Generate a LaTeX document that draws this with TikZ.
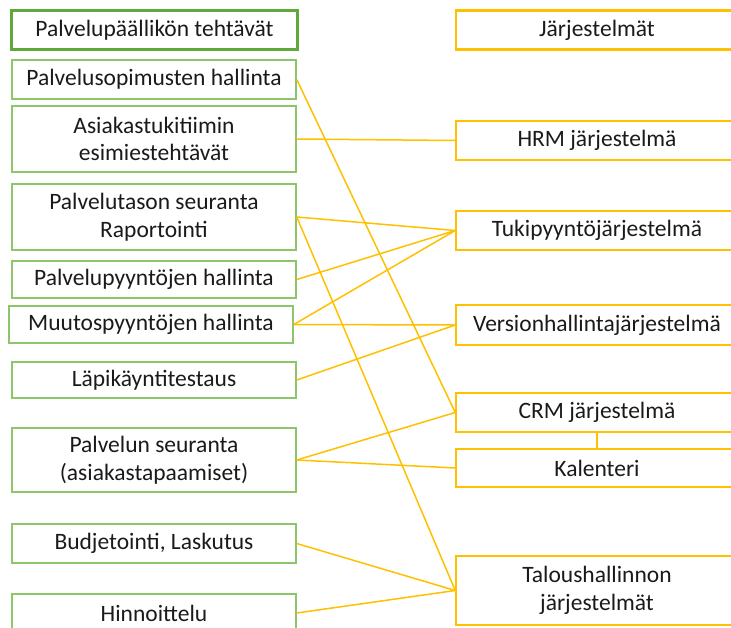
\documentclass[tikz,border=0pt]{standalone}
\usepackage{fontspec}
\setmainfont{Carlito}
\definecolor{gborder}{HTML}{8CC56A}
\definecolor{gdark}{HTML}{5FA83A}
\definecolor{ylw}{HTML}{FFC000}
\definecolor{txt}{HTML}{1A1A1A}
\begin{document}
\begin{tikzpicture}[x=1pt,y=-1pt,
  every node/.style={font=\fontsize{23.5}{27.5}\selectfont, text=txt, align=center, inner sep=0pt},
  gbox/.style={draw=gborder, line width=1.5pt, minimum width=284},
  ghead/.style={draw=gdark, line width=2.8pt, minimum width=286, minimum height=39},
  rbox/.style={draw=ylw, line width=1.5pt, minimum width=282},
  rhead/.style={draw=ylw, line width=2.8pt, minimum width=282, minimum height=39},
  link/.style={draw=ylw, line width=1.5pt}]
\useasboundingbox (0,0) rectangle (731,627);
\clip (0,0) rectangle (731,627);
% left column
\node[ghead] (lh) at (154.5,30) {Palvelupäällikön tehtävät};
\node[gbox, minimum height=39] (b1) at (154,79.5) {Palvelusopimusten hallinta};
\node[gbox, minimum height=66] (b2) at (154,139) {Asiakastukitiimin\\esimiestehtävät};
\node[gbox, minimum height=66] (b3) at (154,217) {Palvelutason seuranta\\Raportointi};
\node[gbox, minimum height=37] (b4) at (154,279.5) {Palvelupyyntöjen hallinta};
\node[gbox, minimum height=37] (b5) at (151,324.5) {Muutospyyntöjen hallinta};
\node[gbox, minimum height=36] (b6) at (154,380) {Läpikäyntitestaus};
\node[gbox, minimum height=64] (b7) at (154,460) {Palvelun seuranta\\(asiakastapaamiset)};
\node[gbox, minimum height=39] (b8) at (154,543.5) {Budjetointi, Laskutus};
\node[gbox, minimum height=38] (b9) at (154,613) {Hinnoittelu};
% right column
\node[rhead] (rh) at (597,30) {Järjestelmät};
\node[rbox, minimum height=39] (hrm) at (597,140.5) {HRM järjestelmä};
\node[rbox, minimum height=39] (tuki) at (597,230.5) {Tukipyyntöjärjestelmä};
\node[rbox, minimum height=40] (ver) at (597,325) {Versionhallintajärjestelmä};
\node[rbox, minimum height=39] (crm) at (597,412.5) {CRM järjestelmä};
\node[rbox, minimum height=38] (kal) at (597,468) {Kalenteri};
\node[rbox, minimum height=69] (tal) at (597,590.5) {Taloushallinnon\\järjestelmät};
% connectors
\path[link] (b1.east) -- (crm.west);
\path[link] (b2.east) -- (hrm.west);
\path[link] (b3.east) -- (tuki.west);
\path[link] (b3.east) -- (tal.west);
\path[link] (b4.east) -- (tuki.west);
\path[link] (b5.east) -- (tuki.west);
\path[link] (b5.east) -- (ver.west);
\path[link] (b6.east) -- (ver.west);
\path[link] (b7.east) -- (crm.west);
\path[link] (b7.east) -- (kal.west);
\path[link] (crm.south) -- (kal.north);
\path[link] (b8.east) -- (tal.west);
\path[link] (b9.east) -- (tal.west);
\end{tikzpicture}
\end{document}
